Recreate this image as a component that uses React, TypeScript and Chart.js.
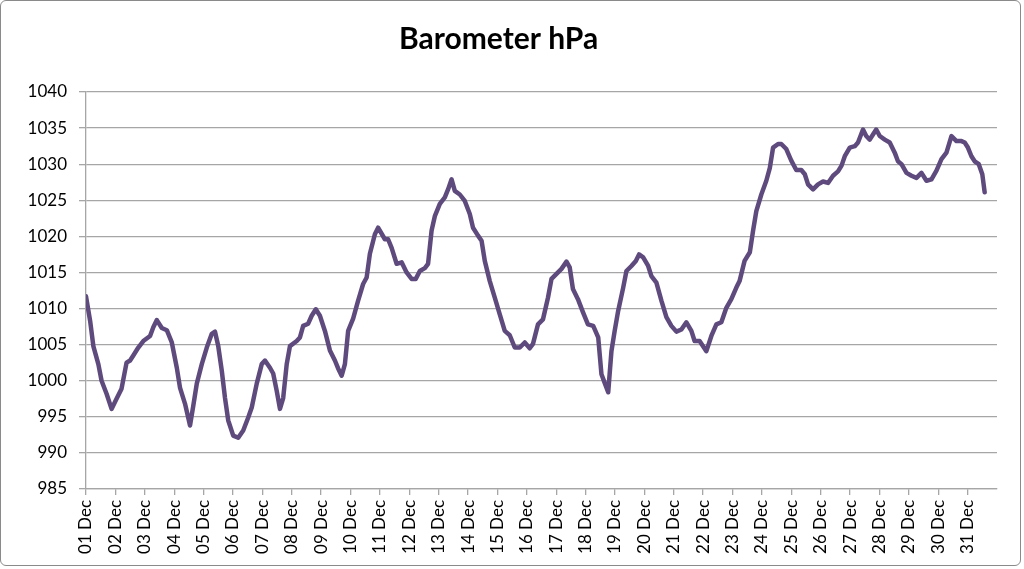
import React, { useEffect, useRef } from 'react';
import { Chart, registerables } from 'chart.js';

Chart.register(...registerables);

const dayLabels = [
  '01 Dec', '02 Dec', '03 Dec', '04 Dec', '05 Dec', '06 Dec', '07 Dec', '08 Dec',
  '09 Dec', '10 Dec', '11 Dec', '12 Dec', '13 Dec', '14 Dec', '15 Dec', '16 Dec',
  '17 Dec', '18 Dec', '19 Dec', '20 Dec', '21 Dec', '22 Dec', '23 Dec', '24 Dec',
  '25 Dec', '26 Dec', '27 Dec', '28 Dec', '29 Dec', '30 Dec', '31 Dec',
];

const yMin = 985;
const yMax = 1040;
const yStep = 5;

// time of each reading, in days since 01 Dec 00:00
const sampleDays = [
  0.0, 0.14, 0.25, 0.42, 0.53, 0.7, 0.87, 1.04, 1.21, 1.38, 1.5, 1.61, 1.78, 1.95,
  2.18, 2.29, 2.41, 2.58, 2.75, 2.92, 3.09, 3.2, 3.37, 3.54, 3.65, 3.77, 3.94, 4.11,
  4.28, 4.39, 4.5, 4.62, 4.73, 4.84, 5.01, 5.18, 5.35, 5.52, 5.64, 5.81, 5.98, 6.09,
  6.26, 6.37, 6.49, 6.6, 6.71, 6.83, 6.94, 7.17, 7.28, 7.39, 7.56, 7.68, 7.82, 7.96,
  8.13, 8.3, 8.47, 8.58, 8.7, 8.81, 8.92, 9.09, 9.26, 9.43, 9.55, 9.66, 9.83, 9.94,
  10.17, 10.28, 10.4, 10.57, 10.74, 10.91, 11.08, 11.22, 11.36, 11.53, 11.64, 11.76,
  11.87, 12.04, 12.21, 12.32, 12.44, 12.55, 12.72, 12.89, 13.06, 13.17, 13.34, 13.46,
  13.57, 13.74, 13.91, 14.08, 14.25, 14.42, 14.59, 14.76, 14.93, 15.1, 15.21, 15.38,
  15.55, 15.72, 15.84, 16.01, 16.18, 16.35, 16.46, 16.57, 16.74, 16.91, 17.08, 17.26,
  17.43, 17.54, 17.65, 17.77, 17.88, 17.99, 18.11, 18.28, 18.39, 18.56, 18.71, 18.82,
  18.96, 19.13, 19.24, 19.41, 19.58, 19.75, 19.92, 20.09, 20.26, 20.43, 20.6, 20.71,
  20.88, 21.11, 21.28, 21.45, 21.62, 21.79, 21.96, 22.13, 22.24, 22.41, 22.59, 22.7,
  22.81, 22.98, 23.15, 23.27, 23.38, 23.55, 23.66, 23.83, 24.0, 24.17, 24.34, 24.46,
  24.57, 24.74, 24.91, 25.08, 25.25, 25.42, 25.59, 25.71, 25.82, 25.99, 26.16, 26.27,
  26.44, 26.55, 26.67, 26.78, 26.89, 27.01, 27.18, 27.35, 27.52, 27.63, 27.75, 27.92,
  28.09, 28.26, 28.43, 28.6, 28.77, 28.94, 29.11, 29.28, 29.45, 29.62, 29.79, 29.9,
  30.01, 30.13, 30.24, 30.38, 30.5, 30.58,
];

// barometric pressure in hPa at each reading
const pressure = [
  1011.7, 1008.3, 1004.8, 1002.3, 1000.0, 998.2, 996.1, 997.5, 998.9, 1002.5, 1002.8, 1003.5, 1004.6, 1005.5,
  1006.2, 1007.4, 1008.4, 1007.3, 1007.0, 1005.3, 1001.8, 999.0, 996.8, 993.8, 996.5, 999.6, 1002.3, 1004.6,
  1006.5, 1006.8, 1004.8, 1001.4, 997.6, 994.5, 992.4, 992.1, 993.1, 994.9, 996.3, 999.6, 1002.3, 1002.8,
  1001.8, 1001.0, 998.6, 996.1, 997.6, 1002.3, 1004.8, 1005.5, 1006.0, 1007.6, 1007.9, 1009.0, 1009.9, 1009.0,
  1006.9, 1004.2, 1002.8, 1001.7, 1000.7, 1002.3, 1006.9, 1008.6, 1011.1, 1013.4, 1014.3, 1017.6, 1020.3, 1021.2,
  1019.6, 1019.6, 1018.4, 1016.2, 1016.4, 1015.0, 1014.1, 1014.1, 1015.2, 1015.6, 1016.2, 1020.8,
  1022.8, 1024.5, 1025.4, 1026.5, 1027.9, 1026.3, 1025.8, 1024.9, 1023.1, 1021.2, 1020.1, 1019.4,
  1016.6, 1013.8, 1011.5, 1009.2, 1006.9, 1006.3, 1004.6, 1004.6, 1005.3, 1004.5, 1005.1, 1007.8,
  1008.5, 1011.5, 1014.1, 1014.8, 1015.5, 1016.5, 1015.7, 1012.7, 1011.3, 1009.5, 1007.8, 1007.6,
  1006.0, 1000.9, 999.7, 998.4, 1004.1, 1006.9, 1009.7, 1012.9, 1015.2, 1015.9, 1016.6, 1017.5,
  1017.1, 1015.9, 1014.5, 1013.6, 1011.1, 1008.8, 1007.6, 1006.8, 1007.1, 1008.1, 1006.9, 1005.5,
  1005.5, 1004.1, 1006.2, 1007.8, 1008.1, 1010.1, 1011.3, 1012.9, 1013.8, 1016.6, 1017.8, 1020.8,
  1023.5, 1025.8, 1027.7, 1029.5, 1032.3, 1032.8, 1032.8, 1032.1, 1030.5, 1029.2, 1029.2, 1028.6,
  1027.2, 1026.5, 1027.2, 1027.6, 1027.4, 1028.4, 1029.0, 1029.8, 1031.1, 1032.3, 1032.5, 1033.0,
  1034.8, 1033.9, 1033.4, 1034.1, 1034.8, 1033.9, 1033.4, 1033.0, 1031.6, 1030.4, 1030.0, 1028.8,
  1028.4, 1028.1, 1028.8, 1027.7, 1027.9, 1029.1, 1030.7, 1031.6, 1033.9, 1033.2, 1033.2, 1033.0,
  1032.3, 1031.1, 1030.4, 1030.0, 1028.6, 1026.1,
];

const GRID = '#A6A6A6';
const FONT = 'Lato, "Open Sans", sans-serif';

export default function App() {
  const ref = useRef<HTMLCanvasElement>(null);

  useEffect(() => {
    if (!ref.current) return;
    const chart = new Chart(ref.current, {
      type: 'line',
      data: {
        datasets: [
          {
            label: 'Barometer hPa',
            data: sampleDays.map((d, i) => ({ x: d, y: pressure[i] })),
            borderColor: '#5E4A7D',
            borderWidth: 4.5,
            pointRadius: 0,
            tension: 0,
            borderJoinStyle: 'round',
            borderCapStyle: 'round',
          },
        ],
      },
      options: {
        animation: false,
        responsive: false,
        layout: { padding: { left: 0, right: 27, top: 0, bottom: 0 } },
        plugins: {
          legend: { display: false },
          tooltip: { enabled: false },
          title: {
            display: true,
            text: 'Barometer hPa',
            color: '#000',
            font: { family: FONT, size: 30, weight: 'bold' },
            padding: { top: 21, bottom: 35 },
          },
        },
        scales: {
          x: {
            type: 'linear',
            min: 0,
            max: dayLabels.length,
            ticks: {
              stepSize: 1,
              autoSkip: false,
              maxRotation: 90,
              minRotation: 90,
              padding: 5,
              color: '#000',
              font: { family: FONT, size: 17 },
              callback: (v: any) => dayLabels[v as number] ?? '',
            },
            grid: {
              drawOnChartArea: false,
              tickLength: 6,
              lineWidth: 1.3,
              color: (ctx: any) => (ctx.tick && ctx.tick.value >= dayLabels.length ? 'rgba(0,0,0,0)' : GRID),
            },
            border: { color: GRID, width: 1.3 },
            afterFit: (s: any) => {
              s.height = 80;
            },
          },
          y: {
            min: yMin,
            max: yMax,
            ticks: {
              stepSize: yStep,
              padding: 12,
              color: '#000',
              font: { family: FONT, size: 17 },
              callback: (v: any) => String(v),
            },
            grid: { color: GRID, lineWidth: 1.3, tickLength: 7 },
            border: { color: GRID, width: 1.3 },
            afterFit: (s: any) => {
              s.width = 86;
            },
          },
        },
      },
    });
    return () => chart.destroy();
  }, []);

  return (
    <div style={{ position: 'fixed', left: 0, top: 0, width: 1024, height: 569, background: '#fff' }}>
      <canvas ref={ref} width={1024} height={569} style={{ display: 'block' }} />
      <div
        style={{
          position: 'absolute',
          left: 0,
          top: 0,
          width: 1019,
          height: 564,
          border: '1.5px solid #8A8A8A',
          borderRadius: 6,
          pointerEvents: 'none',
        }}
      />
    </div>
  );
}
